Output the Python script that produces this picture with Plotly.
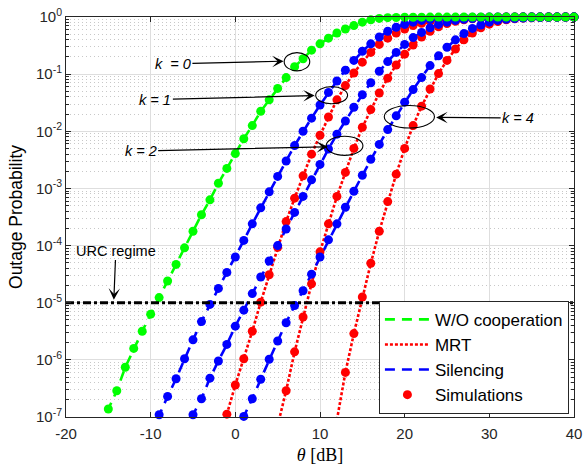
import plotly.graph_objects as go

# ---------------- data (log10 of outage probability) -------------
theta_wo = list(range(-16, 41))
logp_wo = [-7.18, -6.86, -6.54, -6.13, -5.80, -5.50, -5.20, -4.91, -4.62, -4.33,
           -4.04, -3.75, -3.46, -3.20, -2.91, -2.65, -2.39, -2.13, -1.90, -1.65,
           -1.45, -1.25, -1.06, -0.87, -0.73, -0.58, -0.47, -0.37, -0.28, -0.21,
           -0.15, -0.09, -0.05, -0.025, -0.012, -0.008, -0.005, -0.004, -0.003, -0.002,
           -0.002, -0.002, -0.002, -0.002, -0.002, -0.002, -0.002, -0.002, -0.002, -0.002,
           -0.002, -0.002, -0.002, -0.002, -0.002, -0.002, -0.002]

theta_sil_k1 = list(range(-10, 41))
logp_sil_k1 = [-7.30, -6.96, -6.64, -6.33, -5.98, -5.65, -5.33, -5.03, -4.75, -4.47,
               -4.20, -3.91, -3.62, -3.34, -3.06, -2.79, -2.52, -2.25, -2.00, -1.77,
               -1.54, -1.32, -1.12, -0.93, -0.76, -0.60, -0.47, -0.35, -0.25, -0.18,
               -0.13, -0.09, -0.06, -0.04, -0.027, -0.018, -0.012, -0.008, -0.005, -0.003,
               -0.002, -0.002, -0.002, -0.002, -0.002, -0.002, -0.002, -0.002, -0.002, -0.002,
               -0.002]

theta_sil_k2 = list(range(-6, 41))
logp_sil_k2 = [-7.28, -6.96, -6.68, -6.32, -6.02, -5.73, -5.41, -5.13, -4.84, -4.55,
               -4.27, -4.00, -3.71, -3.42, -3.14, -2.85, -2.58, -2.31, -2.05, -1.82,
               -1.58, -1.36, -1.15, -0.95, -0.78, -0.62, -0.48, -0.36, -0.27, -0.19,
               -0.13, -0.09, -0.06, -0.04, -0.026, -0.017, -0.011, -0.007, -0.005, -0.003,
               -0.002, -0.002, -0.002, -0.002, -0.002, -0.002, -0.002]

theta_sil_k4 = list(range(0, 41))
logp_sil_k4 = [-7.30, -6.99, -6.68, -6.34, -5.99, -5.67, -5.35, -5.05, -4.79, -4.50,
               -4.20, -3.90, -3.62, -3.33, -3.05, -2.77, -2.49, -2.23, -1.97, -1.73,
               -1.49, -1.27, -1.06, -0.85, -0.68, -0.53, -0.40, -0.29, -0.20, -0.14,
               -0.09, -0.06, -0.04, -0.027, -0.018, -0.012, -0.008, -0.005, -0.003, -0.002,
               -0.002]

theta_mrt_k1 = list(range(-2, 41))
logp_mrt_k1 = [-7.55, -6.95, -6.44, -5.98, -5.50, -4.99, -4.51, -4.03, -3.58, -3.17,
               -2.78, -2.40, -2.07, -1.75, -1.45, -1.20, -0.98, -0.79, -0.62, -0.48,
               -0.37, -0.28, -0.21, -0.15, -0.11, -0.08, -0.055, -0.038, -0.026, -0.018,
               -0.012, -0.008, -0.005, -0.003, -0.002, -0.002, -0.002, -0.002, -0.002, -0.002,
               -0.002, -0.002, -0.002]

theta_mrt_k2 = list(range(5, 41))
logp_mrt_k2 = [-7.15, -6.54, -5.86, -5.25, -4.67, -4.11, -3.62, -3.14, -2.72, -2.30,
               -1.93, -1.62, -1.33, -1.07, -0.84, -0.65, -0.49, -0.35, -0.25, -0.17,
               -0.115, -0.075, -0.05, -0.032, -0.02, -0.013, -0.008, -0.005, -0.003, -0.002,
               -0.002, -0.002, -0.002, -0.002, -0.002, -0.002]

theta_mrt_k4 = list(range(12, 41))
logp_mrt_k4 = [-7.05, -6.22, -5.54, -4.90, -4.31, -3.75, -3.23, -2.75, -2.30, -1.90,
               -1.56, -1.26, -0.99, -0.76, -0.56, -0.40, -0.28, -0.19, -0.125, -0.08,
               -0.05, -0.032, -0.02, -0.013, -0.008, -0.005, -0.003, -0.002, -0.002]

urc_level = 1e-5
x_ticks = [-20, -10, 0, 10, 20, 30, 40]
x_ticktext = ['-20', '-10', '0', '10', '20', '30', '40']
y_exponents = [-7, -6, -5, -4, -3, -2, -1, 0]

# ---------------- styles ----------------
GREEN, RED, BLUE, DARK = '#00ff00', '#ff0000', '#0000ff', '#262626'
DASH = '10px,7px'
DOT = '3px,2px'
Y_MIN = 1e-7

fig = go.Figure()


def to_p(logs):
    return [10 ** v for v in logs]


def add_line(theta, logs, color, dash, name, show, rank):
    fig.add_trace(go.Scatter(x=theta, y=to_p(logs), mode='lines', name=name,
                             line=dict(color=color, dash=dash, width=2.6),
                             showlegend=show, legendrank=rank, hoverinfo='skip'))


def add_sim(theta, logs, color, show):
    pts = [(t, 10 ** v) for t, v in zip(theta, logs) if 10 ** v >= Y_MIN * 0.999]
    fig.add_trace(go.Scatter(x=[p[0] for p in pts], y=[p[1] for p in pts], mode='markers',
                             name='Simulations', marker=dict(color=color, size=9, line=dict(width=0)),
                             showlegend=show, legendrank=4, cliponaxis=False, hoverinfo='skip'))


add_line(theta_mrt_k1, logp_mrt_k1, RED, DOT, 'MRT', True, 2)
add_line(theta_mrt_k2, logp_mrt_k2, RED, DOT, 'MRT', False, 2)
add_line(theta_mrt_k4, logp_mrt_k4, RED, DOT, 'MRT', False, 2)
add_line(theta_sil_k1, logp_sil_k1, BLUE, DASH, 'Silencing', True, 3)
add_line(theta_sil_k2, logp_sil_k2, BLUE, DASH, 'Silencing', False, 3)
add_line(theta_sil_k4, logp_sil_k4, BLUE, DASH, 'Silencing', False, 3)
add_line(theta_wo, logp_wo, GREEN, DASH, 'W/O cooperation', True, 1)

add_sim(theta_mrt_k1, logp_mrt_k1, RED, True)
add_sim(theta_mrt_k2, logp_mrt_k2, RED, False)
add_sim(theta_mrt_k4, logp_mrt_k4, RED, False)
add_sim(theta_sil_k1, logp_sil_k1, BLUE, False)
add_sim(theta_sil_k2, logp_sil_k2, BLUE, False)
add_sim(theta_sil_k4, logp_sil_k4, BLUE, False)
add_sim(theta_wo, logp_wo, GREEN, False)

fig.add_trace(go.Scatter(x=[x_ticks[0], x_ticks[-1]], y=[urc_level, urc_level], mode='lines',
                         line=dict(color='black', width=3, dash='8px,3px,3px,3px'),
                         showlegend=False, hoverinfo='skip'))

# ---------------- annotations ----------------
ellipses = [  # (theta0, theta1, log y0, log y1)
    (5.77, 8.79, -0.942, -0.624),
    (9.49, 13.26, -1.519, -1.219),
    (10.73, 15.07, -2.421, -2.086),
    (17.59, 23.52, -1.942, -1.549),
]
for x0, x1, ly0, ly1 in ellipses:
    fig.add_shape(type='circle', xref='x', yref='y', x0=x0, x1=x1, y0=10 ** ly0, y1=10 ** ly1,
                  line=dict(color='black', width=1.1))

# label text with an arrow: arrow tip (theta, log y), text offset from the tip in px
labels = [
    (5.70, -0.773, -110.7, 2.7, '<i>k\u00a0\u00a0= 0</i>'),
    (9.37, -1.375, -159.3, 4.0, '<i>k = 1</i>'),
    (10.93, -2.27, -187.2, 4.3, '<i>k = 2</i>'),
    (23.72, -1.757, 82.0, 0.7, '<i>k = 4</i>'),
    (-14.35, -4.95, 2.0, -49.3, 'URC regime'),
]
for x, ly, ax, ay, t in labels:
    fig.add_annotation(x=x, y=ly, xref='x', yref='y', ax=ax, ay=ay, text=t, showarrow=True,
                       arrowhead=3, arrowsize=1.6, arrowwidth=1.2, arrowcolor='black',
                       font=dict(size=14.5, color='black', family='Liberation Sans, Arial'))

# ---------------- layout ----------------
minor_vals = [m * 10 ** e for e in y_exponents[:-1] for m in range(2, 10)]

fig.update_layout(
    width=588, height=468,
    margin=dict(l=66, r=6, t=15, b=50),
    paper_bgcolor='white', plot_bgcolor='white',
    font=dict(family='Liberation Sans, Arial', color=DARK, size=15),
    legend=dict(x=0.990, y=0.008, xanchor='right', yanchor='bottom', bgcolor='white',
                bordercolor=DARK, borderwidth=1, font=dict(size=17, color='black'),
                itemwidth=45, tracegroupgap=0),
)
fig.update_xaxes(range=[-20, 40], tickvals=x_ticks, ticktext=x_ticktext, ticks='inside', ticklen=5,
                 tickcolor=DARK, showline=True, linecolor=DARK, linewidth=1, mirror='ticks',
                 showgrid=True, gridcolor='#dedede', zeroline=False, tickfont=dict(size=15),
                 ticklabeloverflow='allow', ticklabelstandoff=3,
                 title=dict(text='<i>θ</i> [dB]', font=dict(family='Liberation Serif, serif', size=18,
                                                          color='black'), standoff=7))
fig.update_yaxes(type='log', range=[-7, 0], tickvals=[10 ** e for e in y_exponents],
                 ticktext=['10<sup>%d</sup>' % e for e in y_exponents], ticks='inside', ticklen=5,
                 tickcolor=DARK, showline=True, linecolor=DARK, linewidth=1, mirror='ticks',
                 showgrid=True, gridcolor='#dedede', zeroline=False, tickfont=dict(size=15),
                 minor=dict(tickvals=minor_vals, ticks='inside', ticklen=3, tickcolor=DARK,
                            showgrid=True, gridcolor='#c8c8c8', griddash='1px,3px'),
                 title=dict(text='Outage Probability', font=dict(size=17.5, color='black'), standoff=8))

fig.write_html('out.html')
